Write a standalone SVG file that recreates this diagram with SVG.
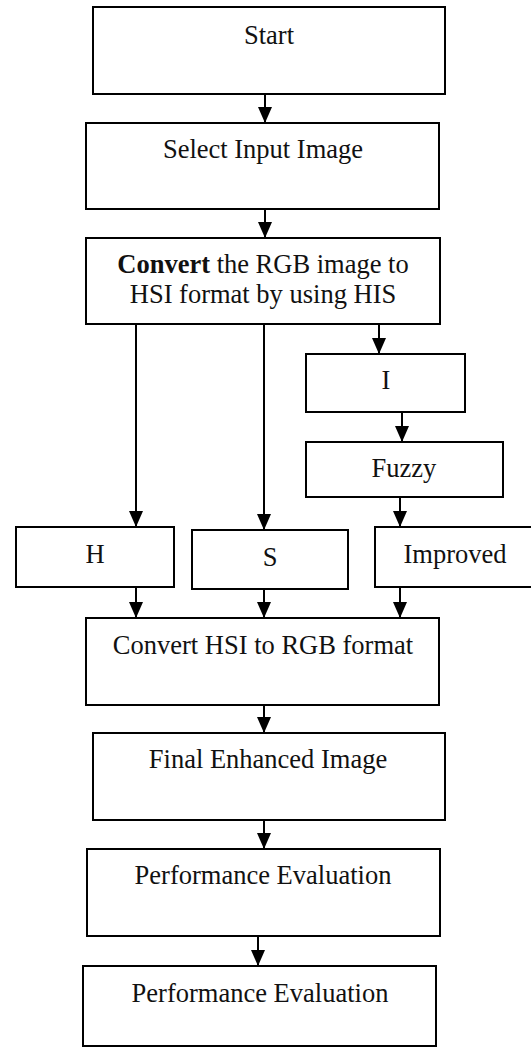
<svg xmlns="http://www.w3.org/2000/svg" width="531" height="1048" viewBox="0 0 531 1048">
<style>
.box{fill:#fff;stroke:#000;stroke-width:2}
.t{font-family:"Liberation Serif","Times New Roman",serif;font-size:26.5px;fill:#111;text-anchor:middle}
.c{stroke:#000;stroke-width:2;fill:none;marker-end:url(#ah)}
</style>
<defs>
<marker id="ah" markerUnits="userSpaceOnUse" markerWidth="16" markerHeight="14" refX="16" refY="7" orient="auto">
<path d="M0,0 L16,7 L0,14 z" fill="#000"/>
</marker>
</defs>
<rect width="531" height="1048" fill="#fff"/>
<g id="connectors">
<line class="c" x1="265" y1="94" x2="265" y2="123"/>
<line class="c" x1="265" y1="209" x2="265" y2="238"/>
<line class="c" x1="379" y1="324" x2="379" y2="354"/>
<line class="c" x1="402" y1="412" x2="402" y2="442"/>
<line class="c" x1="136" y1="324" x2="136" y2="527"/>
<line class="c" x1="264" y1="324" x2="264" y2="530"/>
<line class="c" x1="400" y1="497" x2="400" y2="527"/>
<line class="c" x1="136" y1="587" x2="136" y2="618"/>
<line class="c" x1="264" y1="589" x2="264" y2="618"/>
<line class="c" x1="400" y1="587" x2="400" y2="618"/>
<line class="c" x1="264" y1="705" x2="264" y2="733"/>
<line class="c" x1="264" y1="820" x2="264" y2="849"/>
<line class="c" x1="258" y1="936" x2="258" y2="966"/>
</g>
<g id="start"><rect class="box" x="93" y="7" width="352" height="87"/><text class="t" x="269" y="44">Start</text></g>
<g id="select"><rect class="box" x="86" y="123" width="353" height="86"/><text class="t" x="263" y="158">Select Input Image</text></g>
<g id="convert"><rect class="box" x="86" y="238" width="354" height="86"/><text class="t" x="263" y="273"><tspan font-weight="bold">Convert</tspan> the RGB image to</text><text class="t" x="263" y="303">HSI format by using HIS</text></g>
<g id="i"><rect class="box" x="306" y="354" width="159" height="58"/><text class="t" x="386" y="389">I</text></g>
<g id="fuzzy"><rect class="box" x="306" y="442" width="197" height="55"/><text class="t" x="404" y="477">Fuzzy</text></g>
<g id="h"><rect class="box" x="16" y="527" width="158" height="60"/><text class="t" x="95" y="563">H</text></g>
<g id="s"><rect class="box" x="192" y="530" width="156" height="59"/><text class="t" x="270" y="566">S</text></g>
<g id="improved"><rect class="box" x="375" y="527" width="160" height="60"/><text class="t" x="455" y="563">Improved</text></g>
<g id="tohsi"><rect class="box" x="86" y="618" width="353" height="87"/><text class="t" x="263" y="654">Convert HSI to RGB format</text></g>
<g id="final"><rect class="box" x="93" y="733" width="352" height="87"/><text class="t" x="268" y="768">Final Enhanced Image</text></g>
<g id="perf1"><rect class="box" x="87" y="849" width="353" height="87"/><text class="t" x="263" y="884">Performance Evaluation</text></g>
<g id="perf2"><rect class="box" x="83" y="966" width="353" height="80"/><text class="t" x="260" y="1002">Performance Evaluation</text></g>
</svg>
